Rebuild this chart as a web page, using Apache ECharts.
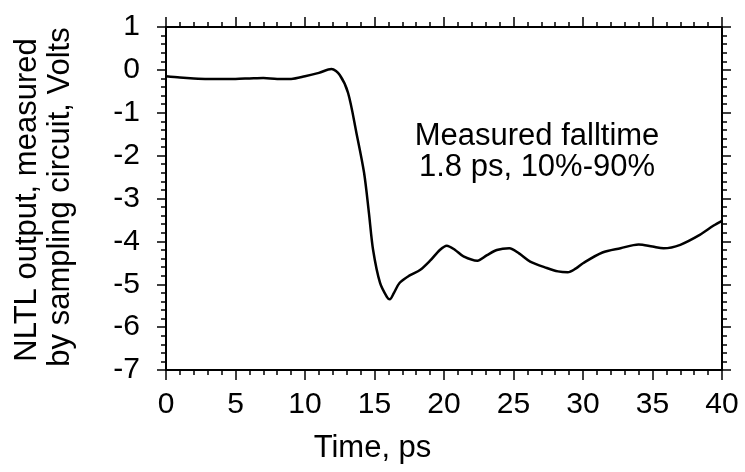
<!DOCTYPE html>
<html>
<head>
<meta charset="utf-8">
<script src="https://cdn.jsdelivr.net/npm/echarts@6/dist/echarts.min.js"></script>
<style>
  html, body { margin: 0; padding: 0; background: #fff; }
  #chart { width: 745px; height: 472px; }
</style>
</head>
<body>
<div id="chart"></div>
<script>
// measured trace, time (ps) / voltage (V)
var timePs = [0, 1, 2, 3, 4, 5, 6, 7, 8, 9, 10, 11, 11.9, 12.5, 13.1, 13.7, 14.25, 14.6, 14.9, 15.4, 15.9, 16.1, 16.4, 16.8, 17.5, 18.3, 19.0, 19.7, 20.2, 20.8, 21.4, 22.4, 23.1, 23.8, 24.7, 25.4, 26.2, 27.4, 28.2, 28.9, 29.5, 30.0, 31.4, 32.7, 34.0, 35.0, 35.8, 37.0, 38.4, 39.4, 40]
var volts = [-0.15, -0.18, -0.2, -0.21, -0.21, -0.21, -0.2, -0.19, -0.21, -0.21, -0.15, -0.07, 0.02, -0.12, -0.54, -1.47, -2.4, -3.34, -4.2, -4.97, -5.3, -5.35, -5.2, -4.97, -4.8, -4.66, -4.45, -4.2, -4.1, -4.2, -4.35, -4.45, -4.32, -4.2, -4.16, -4.28, -4.47, -4.62, -4.7, -4.72, -4.63, -4.51, -4.26, -4.16, -4.07, -4.12, -4.16, -4.08, -3.85, -3.63, -3.52]
var xTicks = [0, 5, 10, 15, 20, 25, 30, 35, 40]
var yTicks = [1, 0, -1, -2, -3, -4, -5, -6, -7]
var noteLines = ['Measured falltime', '1.8 ps, 10%-90%']

var FONT = '"Liberation Sans", Arial, Helvetica, sans-serif'

var points = timePs.map(function (t, i) { return [t, volts[i]] })

var myChart = echarts.init(document.getElementById('chart'))

// ticks point outward on all four sides
function xAx(pos, showLabel) {
  return {
    type: 'value', position: pos, min: xTicks[0], max: xTicks[xTicks.length - 1], interval: 5,
    axisLine: { show: true, onZero: false, lineStyle: { color: '#000', width: 2 } },
    axisTick: { show: true, inside: false, length: 10, lineStyle: { color: '#000', width: 1.5 } },
    minorTick: { show: true, splitNumber: 5, length: 5, lineStyle: { color: '#000', width: 1.5 } },
    axisLabel: { show: showLabel, color: '#000', fontSize: 30, fontFamily: FONT, margin: 20 },
    splitLine: { show: false }
  }
}
function yAx(pos, showLabel) {
  return {
    type: 'value', position: pos, min: yTicks[yTicks.length - 1], max: yTicks[0], interval: 1,
    axisLine: { show: true, onZero: false, lineStyle: { color: '#000', width: 2 } },
    axisTick: { show: true, inside: false, length: 9, lineStyle: { color: '#000', width: 1.5 } },
    minorTick: { show: true, splitNumber: 5, length: 5, lineStyle: { color: '#000', width: 1.5 } },
    axisLabel: { show: showLabel, color: '#000', fontSize: 30, fontFamily: FONT, margin: 26, padding: [0, 0, 10, 0] },
    splitLine: { show: false }
  }
}

var option = {
  backgroundColor: '#fff',
  animation: false,
  grid: { left: 166, right: 23, top: 27, bottom: 102 },
  xAxis: [xAx('bottom', true), xAx('top', false)],
  yAxis: [yAx('left', true), yAx('right', false)],
  series: [{
    type: 'line',
    data: points,
    showSymbol: false,
    smooth: 0.3,
    lineStyle: { color: '#000', width: 2.5 }
  }],
  graphic: [
    {
      type: 'text', left: 'center', top: 433,
      style: { text: 'Time, ps', fill: '#000', font: '31px ' + FONT }
    },
    {
      type: 'text', x: 27, y: 200, rotation: Math.PI / 2,
      style: { text: 'NLTL output, measured', fill: '#000', font: '31px ' + FONT, textAlign: 'center', textVerticalAlign: 'middle' }
    },
    {
      type: 'text', x: 60, y: 197, rotation: Math.PI / 2,
      style: { text: 'by sampling circuit, Volts', fill: '#000', font: '31px ' + FONT, textAlign: 'center', textVerticalAlign: 'middle' }
    },
    {
      type: 'text', x: 537, y: 152,
      style: { text: noteLines.join('\n'), fill: '#000', font: '31px ' + FONT, lineHeight: 31, textAlign: 'center', textVerticalAlign: 'middle' }
    }
  ]
}

myChart.setOption(option)
window.addEventListener('resize', function () { myChart.resize() })
</script>
</body>
</html>
